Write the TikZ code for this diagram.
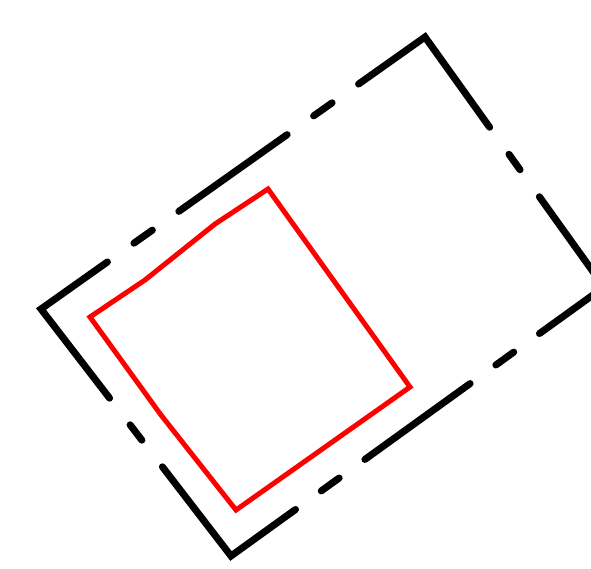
\documentclass[tikz,border=0pt]{standalone}
\usetikzlibrary{calc}
\tikzset{
  frame/.style = {line width=7pt, draw=black, line cap=round, line join=miter},
  inner/.style = {line width=5pt, draw=red, line join=miter},
}
\begin{document}
\begin{tikzpicture}[x=1pt, y=-1pt]

\useasboundingbox (0,0) rectangle (591,568);
\clip (0,0) rectangle (591,568);

% ══════════════════════════════════════════════════════════════════════════
%  Corners — outer dashed frame (right corner lies past the page edge)
% ══════════════════════════════════════════════════════════════════════════

\coordinate (fL) at (41,309);
\coordinate (fT) at (425,37);
\coordinate (fR) at (604,287);
\coordinate (fB) at (231,556);

% ══════════════════════════════════════════════════════════════════════════
%  Corners — inner red outline
% ══════════════════════════════════════════════════════════════════════════

\coordinate (rL)  at (90,317);
\coordinate (rk1) at (145,280);
\coordinate (rk2) at (215,224);
\coordinate (rT)  at (268,189);
\coordinate (rR)  at (410,387);
\coordinate (rB)  at (236,510);
\coordinate (rk3) at (161,415);

% ── long dashes round each corner ───────────────────────────────────────
\draw[frame] ($(fL)!0.361!(fB)$) -- (fL) -- ($(fL)!0.173!(fT)$);
\draw[frame] ($(fL)!0.827!(fT)$) -- (fT) -- ($(fT)!0.361!(fR)$);
\draw[frame] ($(fT)!0.639!(fR)$) -- (fR) -- ($(fR)!0.173!(fB)$);
\draw[frame] ($(fL)!0.639!(fB)$) -- (fB) -- ($(fB)!0.173!(fR)$);

% ── top edge ────────────────────────────────────────────────────────────
\draw[frame] ($(fL)!0.242!(fT)$) -- ($(fL)!0.290!(fT)$);
\draw[frame] ($(fL)!0.359!(fT)$) -- ($(fL)!0.641!(fT)$);
\draw[frame] ($(fL)!0.710!(fT)$) -- ($(fL)!0.758!(fT)$);

% ── bottom edge ─────────────────────────────────────────────────────────
\draw[frame] ($(fB)!0.242!(fR)$) -- ($(fB)!0.290!(fR)$);
\draw[frame] ($(fB)!0.359!(fR)$) -- ($(fB)!0.641!(fR)$);
\draw[frame] ($(fB)!0.710!(fR)$) -- ($(fB)!0.758!(fR)$);

% ── short sides ─────────────────────────────────────────────────────────
\draw[frame] ($(fL)!0.469!(fB)$) -- ($(fL)!0.531!(fB)$);
\draw[frame] ($(fT)!0.469!(fR)$) -- ($(fT)!0.531!(fR)$);

% ── red outline ─────────────────────────────────────────────────────────
\draw[inner] (rL) -- (rk1) -- (rk2) -- (rT) -- (rR) -- (rB) -- (rk3) -- cycle;

\end{tikzpicture}
\end{document}
